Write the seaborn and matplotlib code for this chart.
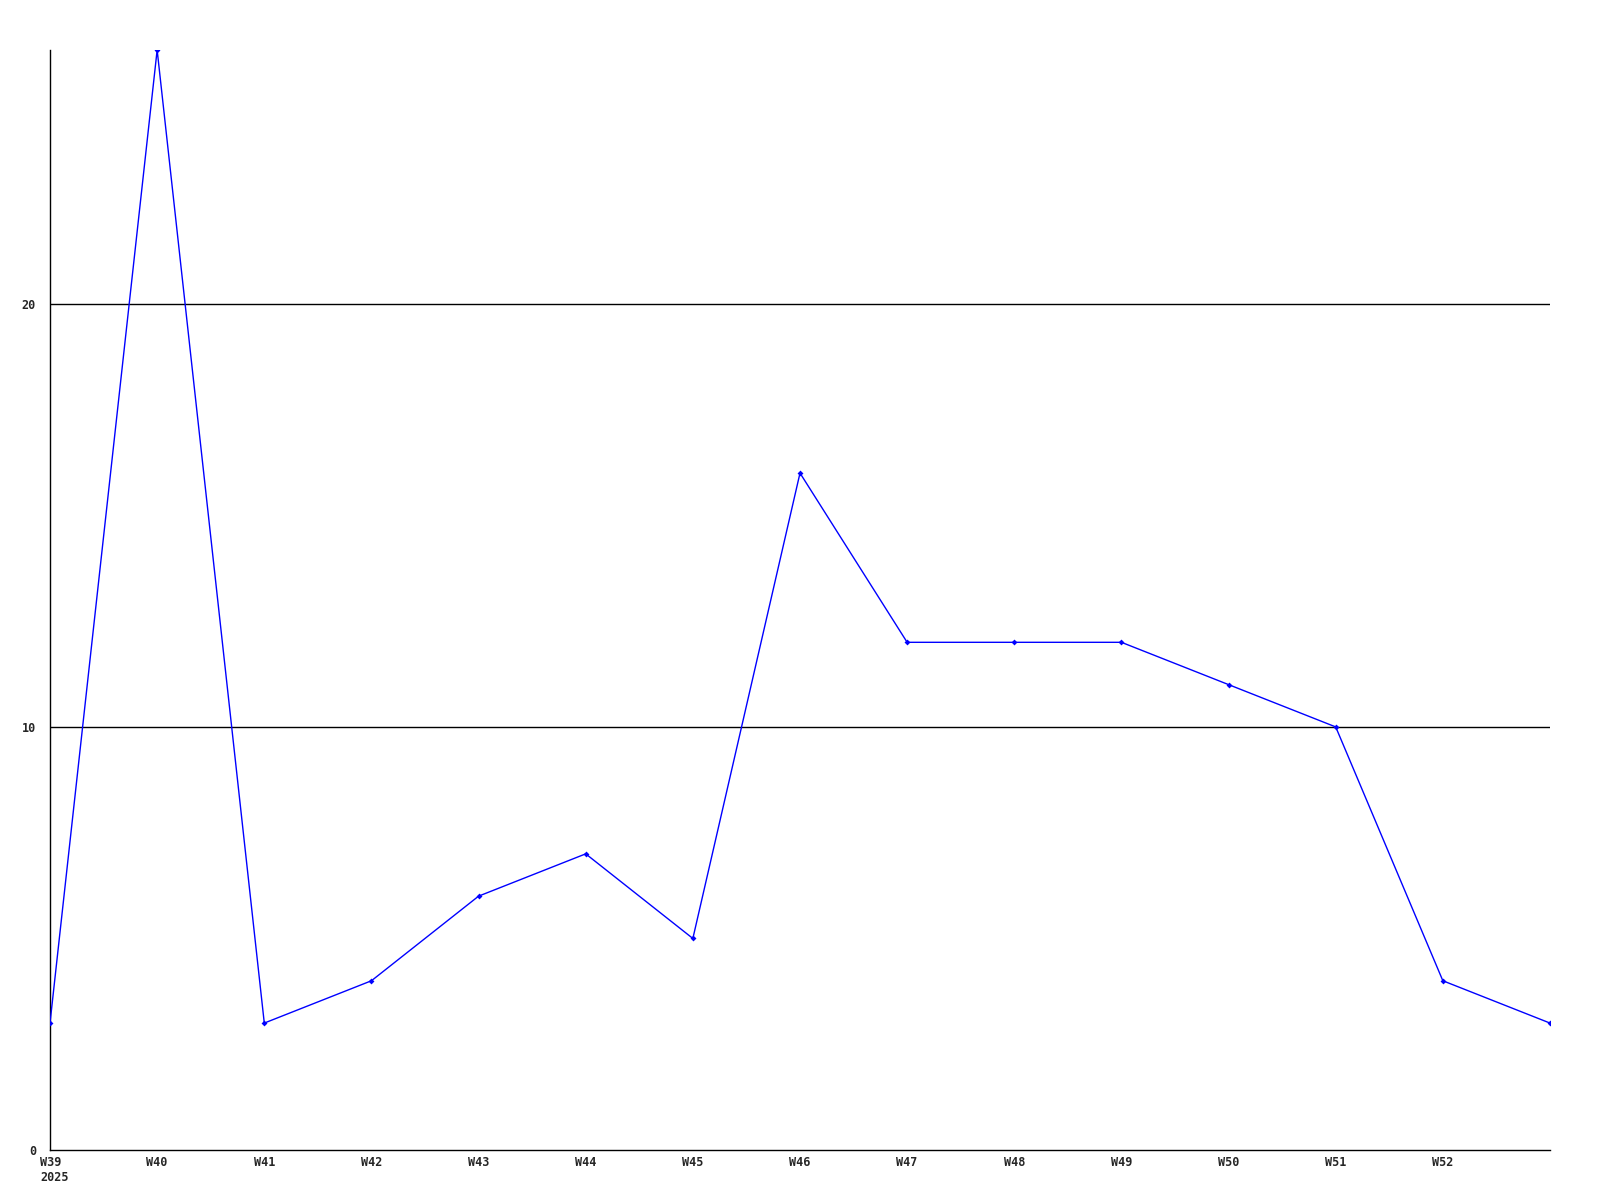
import matplotlib
matplotlib.use("Agg")
import matplotlib.pyplot as plt
import matplotlib.transforms as mtransforms
import seaborn as sns
import pandas as pd

weeks = ["W39", "W40", "W41", "W42", "W43", "W44", "W45", "W46", "W47", "W48",
         "W49", "W50", "W51", "W52", ""]
values = [3, 26, 3, 4, 6, 7, 5, 16, 12, 12, 12, 11, 10, 4, 3]
year_label = "2025"
y_ticks = [0, 10, 20]

sns.set_style("white")
plt.rcParams['font.family'] = ['DejaVu Sans Mono', 'DejaVu Sans']

df = pd.DataFrame({"pos": list(range(len(values))), "value": values})

fig = plt.figure(figsize=(16, 12), dpi=100)
ax = fig.add_axes([50/1600, 50/1200, 1500/1600, 1100/1200])

for yv in y_ticks[1:]:
    ax.axhline(yv, color="black", linewidth=1, zorder=1)

sns.lineplot(data=df, x="pos", y="value", ax=ax, color="#0000ff", linewidth=1,
             marker="D", markersize=3, markeredgewidth=0, zorder=3, clip_on=True)

ax.set_xlim(0, len(values) - 1)
ax.set_ylim(0, max(values))

labels = list(weeks[:-1])
labels[0] = labels[0] + "\n" + year_label
ax.set_xticks(list(range(len(weeks) - 1)))
ax.set_xticklabels(labels, fontsize=8.5, fontweight="bold", linespacing=1.25, va="top")
ax.set_yticks(y_ticks)
ax.set_yticklabels([str(v) for v in y_ticks], fontsize=8.5, fontweight="bold")
ax.tick_params(axis="x", length=0, pad=4)
ax.tick_params(axis="y", length=0, pad=10)

lbl0 = ax.get_xticklabels()[0]
lbl0.set_multialignment("left")
lbl0.set_horizontalalignment("left")
lbl0.set_transform(lbl0.get_transform() + mtransforms.ScaledTranslation(-10/100, 0, fig.dpi_scale_trans))

for s in ["top", "right"]:
    ax.spines[s].set_visible(False)
for s in ["left", "bottom"]:
    ax.spines[s].set_color("black")
    ax.spines[s].set_linewidth(1)

ax.set_xlabel("")
ax.set_ylabel("")
ax.grid(False)

fig.savefig("out.png", dpi=100, facecolor="white")
